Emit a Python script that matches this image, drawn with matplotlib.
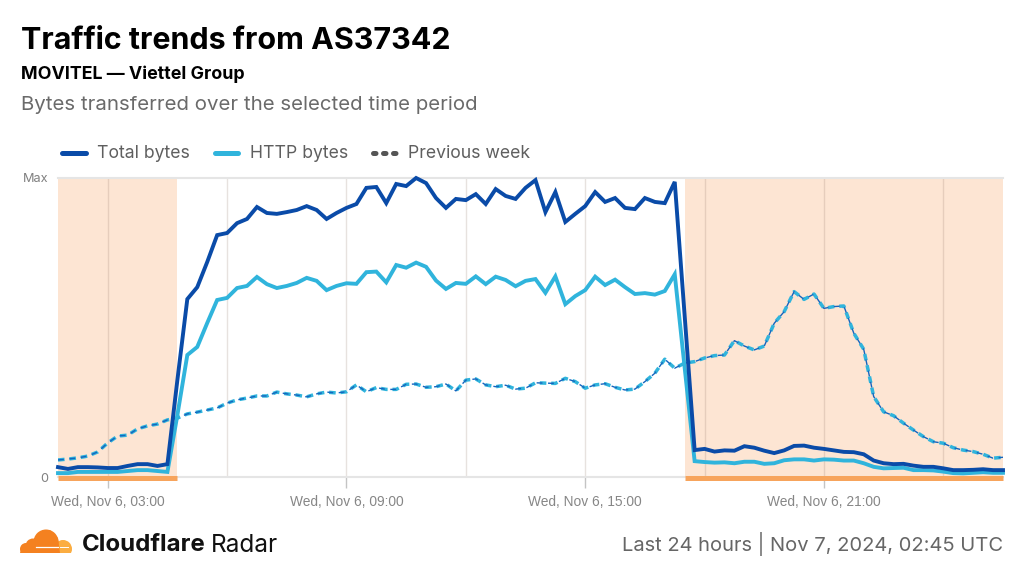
import pandas as pd
import matplotlib
matplotlib.use("Agg")
import matplotlib.pyplot as plt
from matplotlib.lines import Line2D
from matplotlib.patches import Circle, Polygon, Rectangle

plt.rcParams['font.family'] = ['Inter', 'DejaVu Sans']

# values as percent of Max, one every 15 minutes
total_bytes = [3.3, 2.7, 3.3, 3.3, 3.2, 3.0, 3.0, 3.7, 4.3, 4.3, 3.7, 4.3, 32.4,
               59.5, 63.5, 71.9, 80.9, 81.6, 84.9, 86.3, 90.3, 88.3, 88.0, 88.6, 89.3, 90.6, 89.3, 86.3, 88.3,
               90.0, 91.3, 96.7, 97.0, 91.6, 98.0, 97.3, 100, 98.3, 93.3, 90.0, 93.0, 92.6, 94.6, 91.3, 96.3, 94.0,
               93.0, 96.7, 99.3, 88.6, 95.3, 85.3, 88.0, 90.6, 95.3, 92.0, 93.3, 90.0, 89.6, 93.3, 92.0, 91.6, 98.7,
               53.8,
               9.0, 9.4, 8.5, 8.9, 8.8, 10.3, 9.8, 8.8, 8.0, 8.9, 10.4, 10.5, 9.8, 9.4, 8.9, 8.4,
               8.3, 7.6, 5.5, 4.6, 4.3, 4.4, 3.8, 3.4, 3.4, 2.9, 2.3, 2.3, 2.4, 2.6, 2.3, 2.3]
http_bytes = [1.3, 1.3, 1.7, 1.7, 1.7, 1.7, 1.7, 2.0, 2.3, 2.3, 2.0, 1.7, 20.7,
              40.8, 43.5, 51.5, 59.2, 59.9, 63.2, 63.9, 66.9, 64.5, 63.2, 63.9, 64.9, 66.6, 65.6, 62.5, 63.9,
              64.8, 64.6, 68.5, 68.7, 65.1, 70.9, 70.0, 71.7, 70.3, 65.7, 62.9, 64.9, 64.6, 67.1, 64.5, 67.0, 65.9,
              63.8, 65.6, 66.2, 61.6, 67.1, 57.8, 60.5, 62.5, 67.0, 64.2, 66.0, 63.5, 61.2, 61.5, 61.0, 62.2, 67.8,
              36.5,
              5.3, 5.0, 4.8, 4.9, 4.6, 5.1, 5.1, 4.4, 4.6, 5.6, 5.9, 5.9, 5.5, 5.9, 5.8, 5.5,
              5.5, 4.6, 3.4, 2.9, 3.0, 3.1, 2.3, 2.3, 2.2, 1.8, 1.3, 1.2, 1.4, 1.6, 1.4, 1.4]
previous_week = [5.7, 6.0, 6.4, 7.0, 8.4, 11.4, 13.7, 14.0, 16.1, 17.1, 17.7, 19.1, 19.7,
                 21.1, 21.7, 22.4, 23.1, 24.7, 25.8, 26.4, 27.1, 27.1, 28.4, 27.8, 27.4, 26.8, 27.8, 28.4, 28.1,
                 28.5, 30.8, 28.5, 29.9, 29.3, 29.3, 31.0, 31.1, 30.0, 30.2, 31.1, 28.8, 32.4, 32.8, 30.8, 30.2, 30.7,
                 29.4, 29.7, 31.5, 31.4, 31.3, 33.0, 31.9, 29.7, 30.8, 31.2, 30.0, 29.1, 29.4, 31.9, 34.7, 39.4, 36.4,
                 38.1,
                 38.6, 39.8, 40.6, 40.8, 45.6, 43.8, 42.5, 43.8, 51.4, 55.3, 62.0, 59.4, 61.2, 56.4, 57.0, 57.2,
                 48.1, 42.7, 26.9, 21.8, 20.5, 18.0, 15.7, 13.5, 11.8, 11.3, 9.8, 9.0, 8.5, 7.6, 6.3, 6.6]
times = pd.date_range('2024-11-06 01:45', periods=len(total_bytes), freq='15min')

night_spans = [('2024-11-06 01:45', '2024-11-06 04:45'), ('2024-11-06 17:30', '2024-11-07 01:30')]
grid_times = pd.date_range('2024-11-06 03:00', periods=8, freq='3h')
label_times = pd.date_range('2024-11-06 03:00', periods=4, freq='6h')
tick_labels = ['Wed, Nov 6, 03:00', 'Wed, Nov 6, 09:00', 'Wed, Nov 6, 15:00', 'Wed, Nov 6, 21:00']

DARK = '#0A4BA8'
LIGHT = '#30B4DC'
GRID = '#E5E5E5'

fig = plt.figure(figsize=(10.24, 5.76), dpi=100)

# full figure overlay in pixel coordinates for header, legend, footer
page = fig.add_axes([0, 0, 1, 1], zorder=3)
page.set_xlim(0, 1024)
page.set_ylim(576, 0)
page.axis('off')

ax = fig.add_axes([58 / 1024, 1 - 477 / 576, 945 / 1024, 299 / 576])
ax.set_xlim(times[0], times[-1])
ax.set_ylim(0, 100)

for start, end in night_spans:
    ax.axvspan(pd.Timestamp(start), pd.Timestamp(end), color='#FDE5D3', lw=0, zorder=1)
for t in grid_times:
    ax.axvline(t, color='#8A7060', alpha=0.2, lw=1, zorder=1.5)

ax.plot(times, total_bytes, color=DARK, lw=2.8, solid_joinstyle='miter', zorder=4, clip_on=False)
ax.plot(times, http_bytes, color=LIGHT, lw=2.8, solid_joinstyle='miter', zorder=3.5, clip_on=False)
ax.plot(times, previous_week, color=LIGHT, lw=2.5, dashes=(1.9, 1.4), zorder=3)
ax.plot(times, previous_week, color='#1565BE', lw=1, dashes=(4.2, 4.0), zorder=3.1)

for start, end in night_spans:
    ax.plot([pd.Timestamp(start), pd.Timestamp(end)], [-0.3, -0.3], color='#F7A45C', lw=3.6,
            solid_capstyle='butt', zorder=5, clip_on=False)

for side in ['left', 'right']:
    ax.spines[side].set_visible(False)
for side in ['top', 'bottom']:
    ax.spines[side].set_color(GRID)
    ax.spines[side].set_linewidth(1.5)

ax.set_yticks([0, 100], ['0', 'Max'], fontsize=9.2, color='#808080')
ax.tick_params(axis='y', length=0, pad=7)
ax.set_xticks(label_times, tick_labels, fontsize=9.95, color='#868686', family=['Liberation Sans'])
ax.tick_params(axis='x', length=8, width=1, color='#C4C4C4', pad=5)

# header
page.text(21, 41, 'Traffic trends from AS37342', fontsize=21.9, fontweight='bold', color='black', va='center')
page.text(21, 74, 'MOVITEL — Viettel Group', fontsize=12.85, fontweight='bold', color='black', va='center')
page.text(21, 105.5, 'Bytes transferred over the selected time period', fontsize=14.7, color='#6A6A6A', va='center')

# legend
legend_y = 153
for x0, x1, col in [(62, 86, DARK), (215, 238, LIGHT)]:
    page.add_line(Line2D([x0, x1], [legend_y, legend_y], color=col, lw=3.6, solid_capstyle='round'))
page.add_line(Line2D([373, 396], [legend_y, legend_y], color='#555555', lw=3.6, dashes=(0.5, 1.5),
                     dash_capstyle='round'))
page.text(97, legend_y + 1, 'Total bytes', fontsize=12.7, color='#5F5F5F', va='center')
page.text(250, legend_y + 1, 'HTTP bytes', fontsize=12.7, color='#5F5F5F', va='center')
page.text(408, legend_y + 1, 'Previous week', fontsize=12.7, color='#5F5F5F', va='center')

# cloud logo
baseline = Rectangle((15, 525), 70, 28, transform=page.transData, fill=False, lw=0)
page.add_patch(baseline)
for (cx, cy, r, col) in [(63, 549, 9, '#FBAD41'), (46, 542, 12.5, '#F48120'),
                         (33, 546, 7.5, '#F48120'), (26, 549, 6, '#F48120')]:
    c = Circle((cx, cy), r, color=col, lw=0)
    page.add_patch(c)
    c.set_clip_path(baseline)
page.add_patch(Polygon([(50, 530), (58, 538), (60, 553), (20, 553), (22, 546)], color='#F48120', lw=0))
page.add_line(Line2D([36, 58], [547, 547], color='white', lw=0.9))
page.add_line(Line2D([60, 68], [547, 547], color='white', lw=0.7))

# footer
page.text(82, 545, 'Cloudflare', fontsize=17.3, fontweight='bold', color='#111111', va='center')
page.text(211, 545, 'Radar', fontsize=17.5, color='#111111', va='center')
page.text(1003, 544.5, 'Last 24 hours | Nov 7, 2024, 02:45 UTC', fontsize=14.5, color='#666666', va='center', ha='right')

fig.savefig('out.png', dpi=100, facecolor='white')
